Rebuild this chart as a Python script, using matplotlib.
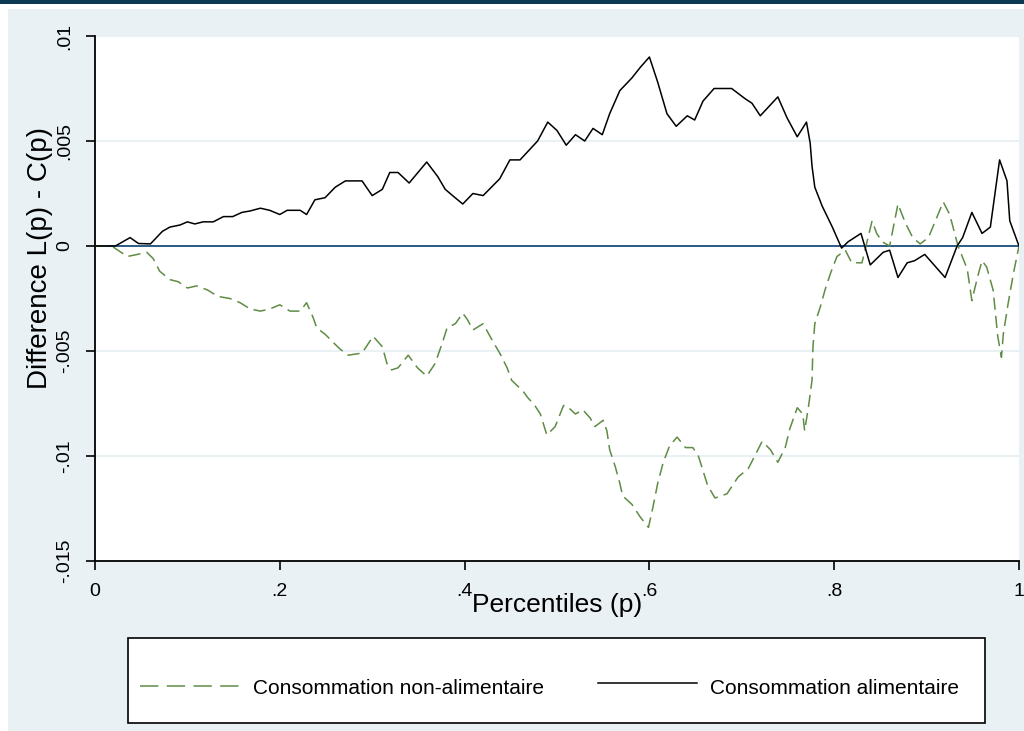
import matplotlib
matplotlib.use('Agg')
import matplotlib.pyplot as plt
from matplotlib.patches import Rectangle
from matplotlib.lines import Line2D

plt.rcParams['font.family'] = ['Liberation Sans', 'DejaVu Sans']

# difference L(p) - C(p), consommation alimentaire
p_alim = [0, 0.022, 0.038, 0.047, 0.060, 0.073, 0.081, 0.092, 0.100, 0.108,
          0.117, 0.128, 0.139, 0.149, 0.159, 0.168, 0.179, 0.189, 0.200, 0.208,
          0.222, 0.229, 0.238, 0.249, 0.260, 0.271, 0.289, 0.300, 0.311, 0.319,
          0.328, 0.340, 0.359, 0.371, 0.379, 0.387, 0.398, 0.409, 0.420, 0.438,
          0.449, 0.460, 0.479, 0.490, 0.500, 0.510, 0.520, 0.530, 0.539, 0.549,
          0.557, 0.568, 0.581, 0.590, 0.600, 0.609, 0.619, 0.629, 0.641, 0.649,
          0.658, 0.670, 0.689, 0.704, 0.711, 0.720, 0.739, 0.749, 0.760, 0.770,
          0.774, 0.776, 0.779, 0.787, 0.798, 0.808, 0.815, 0.829, 0.839, 0.853,
          0.860, 0.869, 0.879, 0.887, 0.898, 0.920, 0.933, 0.939, 0.949, 0.960,
          0.969, 0.979, 0.987, 0.990, 1.0]
d_alim = [0, 0, 0.0004, 0.00012, 0.0001, 0.0007, 0.0009, 0.001, 0.00115, 0.00105,
          0.00115, 0.00115, 0.0014, 0.0014, 0.0016, 0.00167, 0.0018, 0.0017, 0.0015, 0.0017,
          0.0017, 0.0015, 0.0022, 0.0023, 0.0028, 0.0031, 0.0031, 0.0024, 0.0027, 0.0035,
          0.0035, 0.003, 0.004, 0.0033, 0.0027, 0.0024, 0.002, 0.0025, 0.0024, 0.0032,
          0.0041, 0.0041, 0.005, 0.0059, 0.0055, 0.0048, 0.0053, 0.005, 0.0056, 0.0053,
          0.0063, 0.0074, 0.008, 0.0085, 0.009, 0.0078, 0.0063, 0.0057, 0.0062, 0.006,
          0.0069, 0.0075, 0.0075, 0.007, 0.0068, 0.0062, 0.0071, 0.0061, 0.0052, 0.0059,
          0.0049, 0.0038, 0.0028, 0.0019, 0.0009, -0.0001, 0.0002, 0.0006, -0.0009, -0.0003,
          -0.0002, -0.0015, -0.0008, -0.0007, -0.0004, -0.0015, 0, 0.0004, 0.0016, 0.0006,
          0.0009, 0.0041, 0.0031, 0.0012, 0]

# difference L(p) - C(p), consommation non-alimentaire
p_nonalim = [0, 0.018, 0.035, 0.046, 0.056, 0.063, 0.070, 0.081, 0.090, 0.100,
             0.110, 0.122, 0.133, 0.146, 0.157, 0.168, 0.179, 0.189, 0.200, 0.211,
             0.222, 0.229, 0.236, 0.240, 0.249, 0.258, 0.265, 0.274, 0.289, 0.298,
             0.301, 0.311, 0.316, 0.321, 0.328, 0.339, 0.349, 0.359, 0.368, 0.376,
             0.381, 0.390, 0.398, 0.403, 0.409, 0.420, 0.430, 0.438, 0.446, 0.451,
             0.463, 0.468, 0.476, 0.482, 0.489, 0.498, 0.507, 0.510, 0.520, 0.528,
             0.536, 0.541, 0.550, 0.554, 0.557, 0.563, 0.568, 0.571, 0.581, 0.590,
             0.599, 0.604, 0.609, 0.615, 0.622, 0.630, 0.639, 0.647, 0.653, 0.658,
             0.663, 0.671, 0.684, 0.696, 0.707, 0.714, 0.722, 0.731, 0.739, 0.747,
             0.752, 0.760, 0.766, 0.768, 0.772, 0.776, 0.777, 0.779, 0.785, 0.790,
             0.796, 0.803, 0.812, 0.819, 0.830, 0.836, 0.841, 0.846, 0.852, 0.860,
             0.869, 0.877, 0.885, 0.893, 0.902, 0.918, 0.925, 0.934, 0.944, 0.949,
             0.955, 0.960, 0.965, 0.972, 0.977, 0.981, 0.983, 0.988, 0.994, 1.0]
d_nonalim = [0, 0, -0.0005, -0.0004, -0.0003, -0.0006, -0.0012, -0.0016, -0.0017, -0.002,
             -0.0019, -0.0021, -0.0024, -0.0025, -0.0027, -0.003, -0.0031, -0.003, -0.0028, -0.0031,
             -0.0031, -0.0027, -0.0034, -0.0039, -0.0042, -0.0046, -0.0049, -0.0052, -0.0051, -0.0045,
             -0.0043, -0.0048, -0.0056, -0.0059, -0.0058, -0.0052, -0.0058, -0.0062, -0.0056, -0.0046,
             -0.0039, -0.0037, -0.0032, -0.0035, -0.004, -0.0037, -0.0045, -0.0051, -0.0058, -0.0064,
             -0.0069, -0.0072, -0.0076, -0.008, -0.009, -0.0086, -0.0076, -0.0076, -0.008, -0.0078,
             -0.0082, -0.0086, -0.0083, -0.0088, -0.0097, -0.0105, -0.0113, -0.0119, -0.0123, -0.0129,
             -0.0134, -0.0124, -0.0113, -0.0103, -0.0095, -0.0091, -0.0096, -0.0096, -0.01, -0.0107,
             -0.0114, -0.012, -0.0118, -0.011, -0.0106, -0.01, -0.0093, -0.0097, -0.0103, -0.0096,
             -0.0087, -0.0077, -0.008, -0.0088, -0.0077, -0.0064, -0.0048, -0.0037, -0.0029, -0.0021,
             -0.0013, -0.0005, -0.0002, -0.0008, -0.0008, 0.0003, 0.0012, 0.0006, 0.0002, 0,
             0.002, 0.0011, 0.0004, 0.0001, 0.0004, 0.0021, 0.0015, 0, -0.0011, -0.0026,
             -0.0015, -0.0007, -0.001, -0.0021, -0.0043, -0.0053, -0.0042, -0.0028, -0.0013, 0]

x_ticks = [0, .2, .4, .6, .8, 1]
x_labels = ['0', '.2', '.4', '.6', '.8', '1']
y_ticks = [-.015, -.01, -.005, 0, .005, .01]
y_labels = ['-.015', '-.01', '-.005', '0', '.005', '.01']

green = '#5f8c45'
bg = '#e9f1f5'
W, H = 1024, 731


def fx(px):
    return px / W


def fy(py):
    return 1 - py / H


fig = plt.figure(figsize=(10.24, 7.31), dpi=100, facecolor='white')
fig.add_artist(Rectangle((fx(8), 0), 1 - fx(8), fy(9), transform=fig.transFigure,
                         facecolor=bg, edgecolor='none', zorder=-2))
fig.add_artist(Rectangle((0, fy(4)), 1, 1 - fy(4), transform=fig.transFigure,
                         facecolor='#0b3954', edgecolor='none', zorder=-2))

ax = fig.add_axes([fx(95), fy(561), fx(1019) - fx(95), fy(36) - fy(561)])
ax.set_facecolor('white')
ax.plot(p_nonalim, d_nonalim, color=green, lw=1.1, dashes=(8, 4), zorder=3)
ax.plot(p_alim, d_alim, color='black', lw=1.1, zorder=4)
ax.axhline(0, color='#2a5a85', lw=1.4, zorder=2)

ax.set_xlim(0, 1)
ax.set_ylim(-0.015, 0.01)
ax.set_xticks(x_ticks)
ax.set_xticklabels(x_labels)
ax.set_yticks(y_ticks)
ax.set_yticklabels(y_labels, rotation=90, va='center')
ax.tick_params(direction='out', length=6.5, width=1.2, color='black',
               labelsize=14, pad=9)
ax.yaxis.grid(True, color=bg, lw=1.5)
ax.set_axisbelow(True)
for s in ['top', 'right']:
    ax.spines[s].set_visible(False)
for s in ['left', 'bottom']:
    ax.spines[s].set_linewidth(1.3)

ax.set_xlabel('Percentiles (p)', fontsize=19)
ax.xaxis.set_label_coords(0.5, (561 - 593) / 525)
fig.text(fx(40), fy(258), 'Difference L(p) - C(p)', rotation=90,
         ha='center', va='center', fontsize=20)

# legend box
fig.add_artist(Rectangle((fx(128), fy(723)), fx(985) - fx(128), fy(638) - fy(723),
                         transform=fig.transFigure, facecolor='white',
                         edgecolor='black', lw=1.2, zorder=1))
fig.add_artist(Line2D([fx(140), fx(240)], [fy(686), fy(686)], transform=fig.transFigure,
                      color=green, lw=1.1, dashes=(12, 5.5), zorder=2))
fig.text(fx(253), fy(689), 'Consommation non-alimentaire', va='center', fontsize=15)
fig.add_artist(Line2D([fx(598), fx(697)], [fy(683), fy(683)], transform=fig.transFigure,
                      color='black', lw=1.1, zorder=2))
fig.text(fx(710), fy(688), 'Consommation alimentaire', va='center', fontsize=15)

fig.savefig('out.png', dpi=100, facecolor=fig.get_facecolor())
